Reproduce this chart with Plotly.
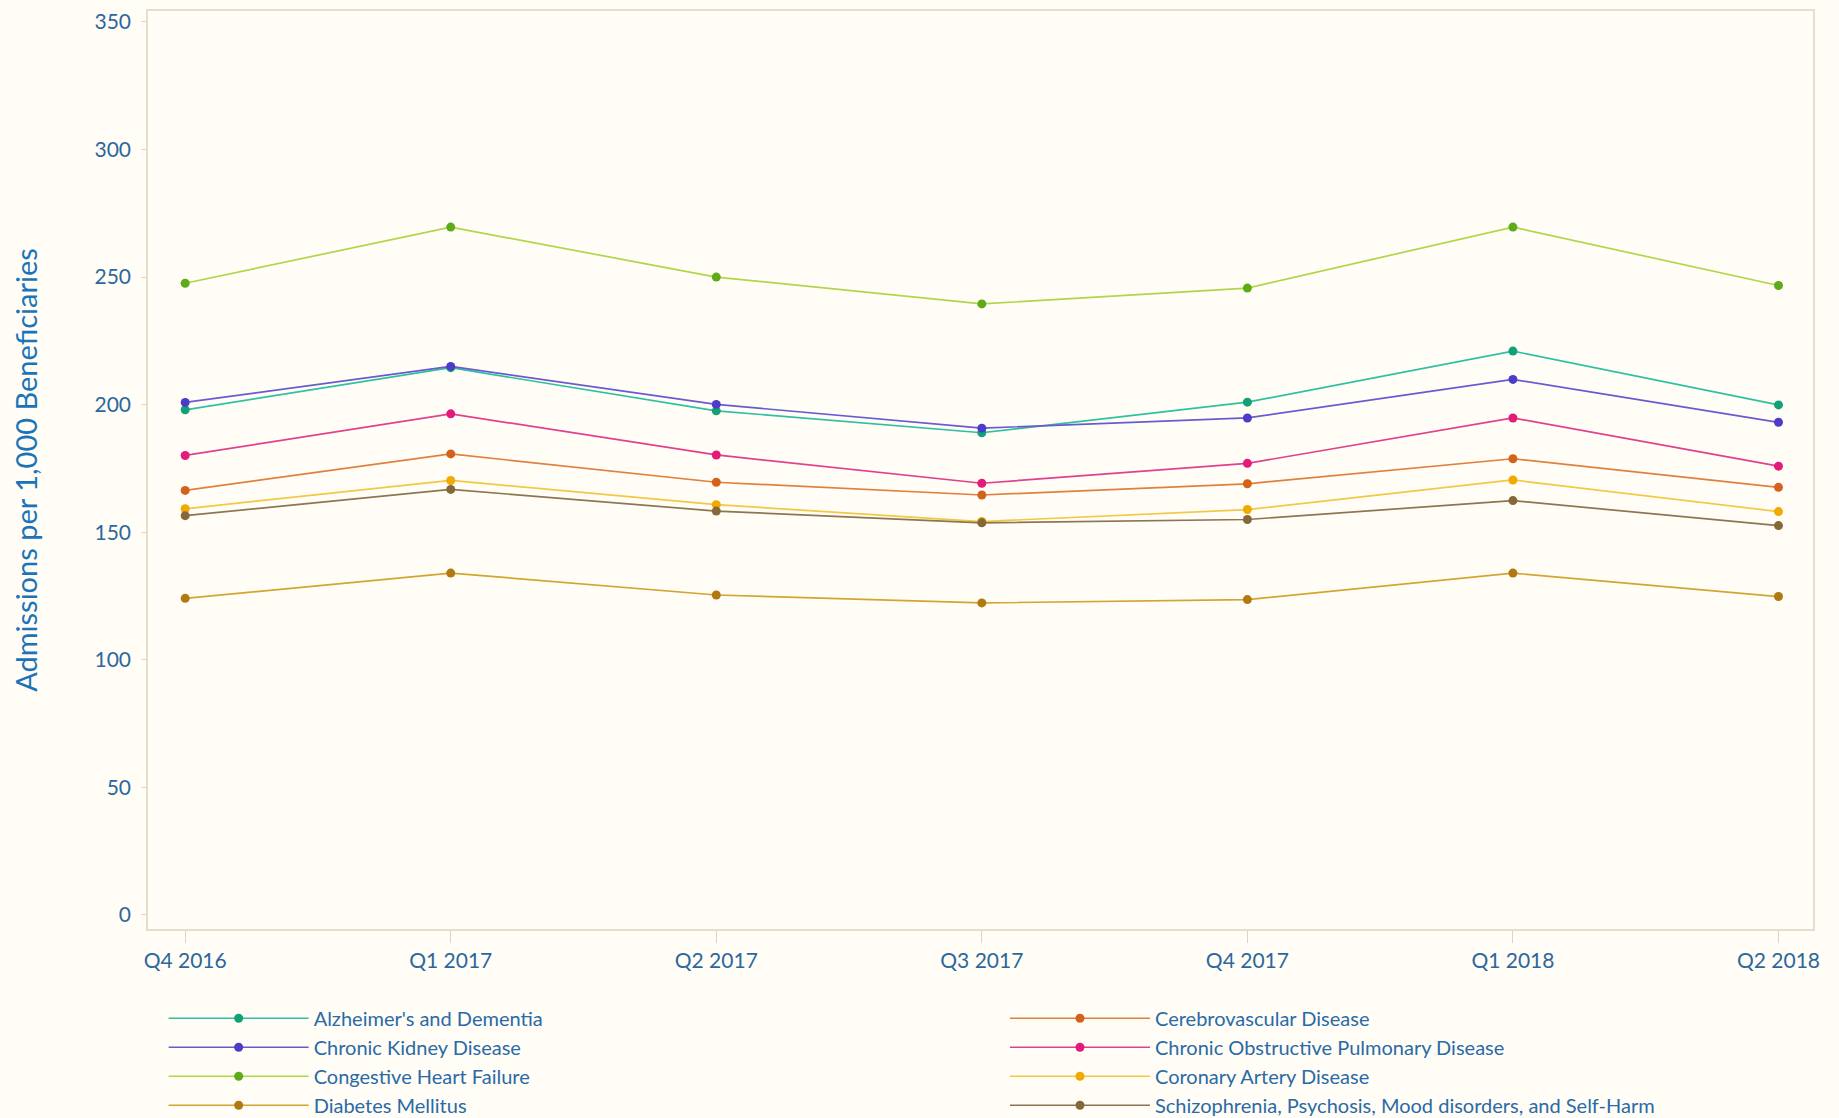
import plotly.graph_objects as go

# Quarterly inpatient admission rates by chronic condition
quarters = ["Q4 2016", "Q1 2017", "Q2 2017", "Q3 2017", "Q4 2017", "Q1 2018", "Q2 2018"]

alzheimers = [198.0, 214.5, 197.6, 189.0, 201.0, 221.0, 199.9]
kidney = [200.9, 215.0, 200.1, 190.8, 194.8, 209.9, 193.1]
heart_failure = [247.6, 269.6, 250.0, 239.5, 245.7, 269.6, 246.7]
diabetes = [124.1, 134.0, 125.4, 122.3, 123.6, 134.0, 124.8]
cerebrovascular = [166.4, 180.7, 169.6, 164.6, 169.0, 178.8, 167.6]
copd = [180.1, 196.4, 180.3, 169.2, 177.0, 194.8, 175.9]
coronary = [159.2, 170.3, 160.8, 154.2, 158.9, 170.5, 158.1]
mental_health = [156.5, 166.8, 158.3, 153.7, 155.0, 162.4, 152.6]

series_names = [
    "Alzheimer's and Dementia",
    "Chronic Kidney Disease",
    "Congestive Heart Failure",
    "Diabetes Mellitus",
    "Cerebrovascular Disease",
    "Chronic Obstructive Pulmonary Disease",
    "Coronary Artery Disease",
    "Schizophrenia, Psychosis, Mood disorders, and Self-Harm",
]
series_values = [alzheimers, kidney, heart_failure, diabetes,
                 cerebrovascular, copd, coronary, mental_health]

# (line colour, marker colour)
palette = [
    ("#2fc0a0", "#14a077"),
    ("#6a5ad0", "#4b3dc8"),
    ("#b0d64a", "#5faa18"),
    ("#d4a431", "#b07a10"),
    ("#e0803e", "#d4621c"),
    ("#e2408c", "#e21a7a"),
    ("#f3c845", "#f0aa00"),
    ("#8c7552", "#85683a"),
]

# two legend columns: first four series on the left, last four on the right
legend_column = ["legend"] * 4 + ["legend2"] * 4

fig = go.Figure()
for name, vals, (lc, mc), col in zip(series_names, series_values, palette, legend_column):
    fig.add_trace(go.Scatter(
        x=quarters, y=vals, name=name, mode="lines+markers",
        line=dict(color=lc, width=1.7),
        marker=dict(color=mc, size=9),
        legend=col,
    ))

tick_blue = "#2b679e"
frame = "#e3dece"

legend_style = dict(
    orientation="v", y=-0.076, xanchor="left", yanchor="top",
    itemwidth=140, font=dict(size=20, color="#2a6aa6"),
    bgcolor="rgba(0,0,0,0)", tracegroupgap=0, traceorder="normal",
)

fig.update_layout(
    width=1839, height=1118,
    paper_bgcolor="#fffdf6", plot_bgcolor="#fffdf6",
    margin=dict(l=148, r=26, t=11, b=189, autoexpand=False),
    font=dict(family="Lato, 'Noto Sans', sans-serif", color=tick_blue, size=21),
    showlegend=True,
    legend=dict(x=0.0094, **legend_style),
    legend2=dict(x=0.5147, **legend_style),
    xaxis=dict(
        range=[-0.14, 6.13], showgrid=False, zeroline=False,
        showline=True, linecolor=frame, linewidth=1.5, mirror=True,
        ticks="outside", ticklen=12, tickcolor="#d8d5cc", tickwidth=1,
        tickfont=dict(size=21, color=tick_blue),
    ),
    yaxis=dict(
        range=[-5.5, 354.3], tickvals=[0, 50, 100, 150, 200, 250, 300, 350],
        showgrid=False, zeroline=False,
        showline=True, linecolor=frame, linewidth=1.5, mirror=True,
        ticks="outside", ticklen=5, tickcolor="#f0cfae", tickwidth=1,
        tickfont=dict(size=21, color=tick_blue), ticklabelstandoff=6,
        title=dict(text="Admissions per 1,000 Beneficiaries",
                   font=dict(size=29, color="#1b74b8"), standoff=48),
    ),
)

fig.write_html("out.html")
